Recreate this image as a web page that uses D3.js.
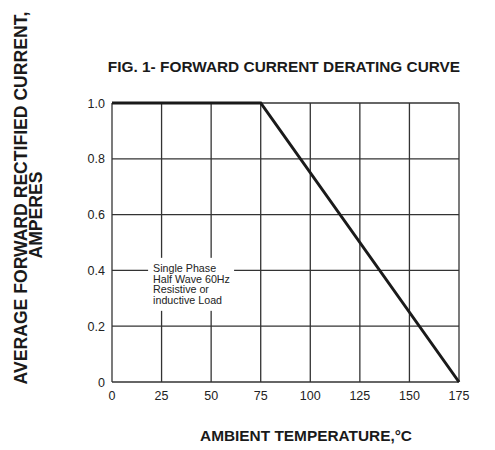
<!DOCTYPE html>
<html>
<head>
<meta charset="utf-8">
<script src="https://cdn.jsdelivr.net/npm/d3@7"></script>
<style>
  body { margin: 0; background: #fff; }
  svg { font-family: "Liberation Sans", Arial, sans-serif; }
</style>
</head>
<body>
<div id="chart"></div>
<script>
// derating curve points
const temperature = [0, 75, 175];
const current = [1.0, 1.0, 0];
const xTicks = [0, 25, 50, 75, 100, 125, 150, 175];
const yTicks = [0, 0.2, 0.4, 0.6, 0.8, 1.0];
const yTickLabels = ["0", "0.2", "0.4", "0.6", "0.8", "1.0"];
const noteLines = ["Single Phase", "Half Wave 60Hz", "Resistive or", "inductive Load"];

const width = 495, height = 450;
const margin = { top: 103, right: 36, bottom: 68, left: 112 };
const plotW = width - margin.left - margin.right;
const plotH = height - margin.top - margin.bottom;

const svg = d3.select("#chart").append("svg")
  .attr("width", width)
  .attr("height", height);

const x = d3.scaleLinear().domain([0, 175]).range([0, plotW]);
const y = d3.scaleLinear().domain([0, 1]).range([plotH, 0]);

const g = svg.append("g").attr("transform", `translate(${margin.left},${margin.top})`);

// grid
g.selectAll(".vgrid").data(xTicks).enter().append("line")
  .attr("x1", d => x(d)).attr("x2", d => x(d))
  .attr("y1", 0).attr("y2", plotH)
  .attr("stroke", "#333").attr("stroke-width", 1.3);
g.selectAll(".hgrid").data(yTicks).enter().append("line")
  .attr("x1", 0).attr("x2", plotW)
  .attr("y1", d => y(d)).attr("y2", d => y(d))
  .attr("stroke", "#333").attr("stroke-width", 1.3);

// note box hides the grid behind it
const note = g.append("g").attr("transform", `translate(${x(18.2)},${y(0.445)})`);
note.append("rect")
  .attr("x", 0).attr("y", 0)
  .attr("width", 86).attr("height", 53)
  .attr("fill", "#fff");
note.selectAll("text").data(noteLines).enter().append("text")
  .attr("x", 5)
  .attr("y", (d, i) => 14 + i * 10.7)
  .attr("font-size", 10.7)
  .attr("fill", "#222")
  .text(d => d);

// tick labels
g.selectAll(".ylab").data(yTicks).enter().append("text")
  .attr("x", -7).attr("y", d => y(d) + 4.5)
  .attr("text-anchor", "end")
  .attr("font-size", 12.5).attr("fill", "#222")
  .text((d, i) => yTickLabels[i]);
g.selectAll(".xlab").data(xTicks).enter().append("text")
  .attr("x", d => x(d)).attr("y", plotH + 18)
  .attr("text-anchor", "middle")
  .attr("font-size", 12.5).attr("fill", "#222")
  .text(d => d);

// curve
const line = d3.line().x(d => x(d[0])).y(d => y(d[1]));
g.append("path")
  .datum(temperature.map((t, i) => [t, current[i]]))
  .attr("d", line)
  .attr("fill", "none")
  .attr("stroke", "#1a1a1a")
  .attr("stroke-width", 3)
  .attr("stroke-linejoin", "miter");

// titles
svg.append("text")
  .attr("x", 284).attr("y", 72)
  .attr("text-anchor", "middle")
  .attr("font-size", 15.4).attr("font-weight", "bold").attr("fill", "#1a1a1a")
  .text("FIG. 1- FORWARD CURRENT DERATING CURVE");
svg.append("text")
  .attr("x", 306).attr("y", 441)
  .attr("text-anchor", "middle")
  .attr("font-size", 15.4).attr("font-weight", "bold").attr("fill", "#1a1a1a")
  .text("AMBIENT TEMPERATURE,°C");
svg.append("text")
  .attr("transform", "translate(27,198) rotate(-90)")
  .attr("text-anchor", "middle")
  .attr("font-size", 17.6).attr("font-weight", "bold").attr("fill", "#1a1a1a")
  .text("AVERAGE FORWARD RECTIFIED CURRENT,");
svg.append("text")
  .attr("transform", "translate(42,215) rotate(-90)")
  .attr("text-anchor", "middle")
  .attr("font-size", 17.6).attr("font-weight", "bold").attr("fill", "#1a1a1a")
  .text("AMPERES");
</script>
</body>
</html>
